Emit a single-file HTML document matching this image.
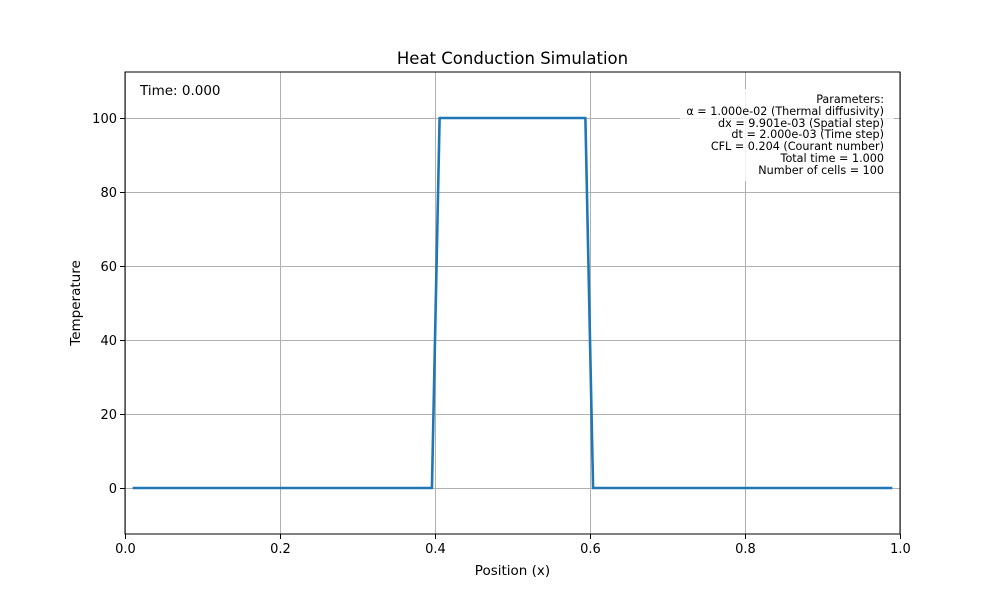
<!DOCTYPE html>
<html><head><meta charset="utf-8"><style>
body{margin:0;background:#fff;}
svg text{font-family:"DejaVu Sans","Liberation Sans",sans-serif;}
</style></head><body>
<svg id="chart" width="1000" height="600" xmlns="http://www.w3.org/2000/svg">
<rect width="1000" height="600" fill="#fff"/>
<g id="grid"></g>
<g id="ticks"></g>
<path id="line" fill="none" stroke="#1f77b4" stroke-width="2.6" stroke-linejoin="round"/>
<rect x="125" y="72" width="775" height="462" fill="none" stroke="#000" stroke-width="1"/>
<text x="512.5" y="64" font-size="16.5" text-anchor="middle">Heat Conduction Simulation</text>
<text x="512.5" y="575" font-size="13.5" text-anchor="middle">Position (x)</text>
<text transform="translate(80,303) rotate(-90)" font-size="13.5" text-anchor="middle">Temperature</text>
<text x="140" y="95" font-size="13.5">Time: 0.000</text>
<rect x="680" y="89" width="214" height="92" rx="4" fill="#fff" fill-opacity="0.8"/>
<g font-size="11.2" text-anchor="end">
<text x="884" y="103">Parameters:</text>
<text x="884" y="115">α = 1.000e-02 (Thermal diffusivity)</text>
<text x="884" y="127">dx = 9.901e-03 (Spatial step)</text>
<text x="884" y="138">dt = 2.000e-03 (Time step)</text>
<text x="884" y="150">CFL = 0.204 (Courant number)</text>
<text x="884" y="162">Total time = 1.000</text>
<text x="884" y="174">Number of cells = 100</text>
</g>
</svg>
<script>
const xTicks=[0,0.2,0.4,0.6,0.8,1.0];
const xTickLabels=["0.0","0.2","0.4","0.6","0.8","1.0"];
const yTicks=[0,20,40,60,80,100];
const yTickLabels=["0","20","40","60","80","100"];
const cellIndex=Array.from({length:100},(_,i)=>i+1);
const temps=[0,0,0,0,0,0,0,0,0,0, 0,0,0,0,0,0,0,0,0,0, 0,0,0,0,0,0,0,0,0,0, 0,0,0,0,0,0,0,0,0,0,
100,100,100,100,100,100,100,100,100,100, 100,100,100,100,100,100,100,100,100,100,
0,0,0,0,0,0,0,0,0,0, 0,0,0,0,0,0,0,0,0,0, 0,0,0,0,0,0,0,0,0,0, 0,0,0,0,0,0,0,0,0,0];
const positions=cellIndex.map(i=>i/101);
const X0=125,X1=900,Y0=534,Y1=72,ymin=-12.43,ymax=112.43;
const sx=v=>X0+(v-0)/(1-0)*(X1-X0);
const sy=v=>Y0-(v-ymin)/(ymax-ymin)*(Y0-Y1);
const NS="http://www.w3.org/2000/svg";
const grid=document.getElementById('grid'),ticks=document.getElementById('ticks');
function mk(tag,attrs,parent){const e=document.createElementNS(NS,tag);for(const k in attrs)e.setAttribute(k,attrs[k]);parent.appendChild(e);return e;}
xTicks.forEach((t,i)=>{const x=Math.round(sx(t))+0.5;
 const g=mk('line',{x1:x,x2:x,y1:Y1,y2:Y0,stroke:'#b0b0b0','stroke-width':1},grid);
 
 
 mk('line',{x1:x,x2:x,y1:Y0,y2:Y0+5,stroke:'#000'},ticks);
 const tx=mk('text',{x:x,y:Y0+19,'font-size':13,'text-anchor':'middle'},ticks);tx.textContent=xTickLabels[i];
 
 });
yTicks.forEach((t,i)=>{const y=Math.round(sy(t))+0.5;
 const g=mk('line',{x1:X0,x2:X1,y1:y,y2:y,stroke:'#b0b0b0','stroke-width':1},grid);
 
 
 mk('line',{x1:X0-5,x2:X0,y1:y,y2:y,stroke:'#000'},ticks);
 const tx=mk('text',{x:X0-8,y:y+4.5,'font-size':13,'text-anchor':'end'},ticks);tx.textContent=yTickLabels[i];
 
 });
document.getElementById('line').setAttribute('d',positions.map((p,i)=>(i?'L':'M')+sx(p).toFixed(2)+','+sy(temps[i]).toFixed(2)).join(''));
</script>
</body></html>
